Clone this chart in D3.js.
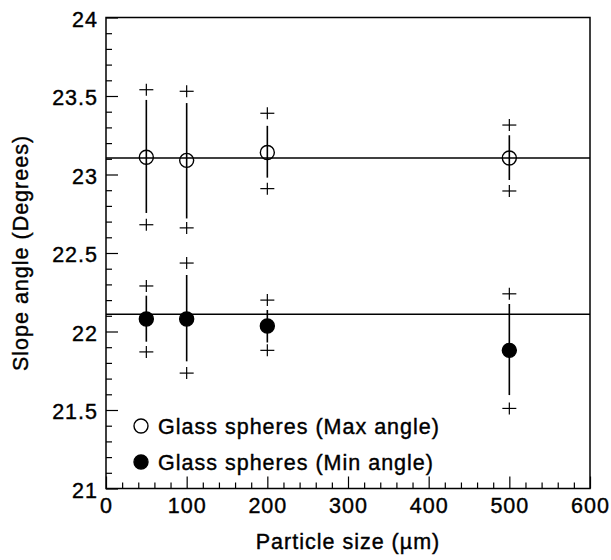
<!DOCTYPE html>
<html>
<head>
<meta charset="utf-8">
<script src="https://cdn.jsdelivr.net/npm/d3@7"></script>
<style>
  body { margin: 0; background: #fff; }
  svg text { font-family: "Liberation Sans", Arial, sans-serif; fill: #000;
             stroke: #000; stroke-width: 0.4; letter-spacing: 1px; }
</style>
</head>
<body>
<svg id="chart" width="611" height="560"></svg>
<script>
// particle sizes (µm)
const sizes = [50, 100, 200, 500];

// max angle series
const maxMean = [23.11, 23.09, 23.14, 23.105];
const maxBarLo = [22.755, 22.72, 22.98, 22.965];
const maxBarHi = [23.475, 23.455, 23.31, 23.25];
const maxMin = [22.68, 22.66, 22.91, 22.895];
const maxMax = [23.54, 23.53, 23.39, 23.315];
const maxFit = 23.105;

// min angle series
const minMean = [22.08, 22.08, 22.035, 21.88];
const minBarLo = [21.935, 21.81, 21.93, 21.595];
const minBarHi = [22.228, 22.36, 22.137, 22.175];
const minMin = [21.87, 21.735, 21.88, 21.51];
const minMax = [22.29, 22.436, 22.2, 22.24];
const minFit = 22.11;

const legendLabels = ["Glass spheres (Max angle)", "Glass spheres (Min angle)"];

const svg = d3.select("#chart");
const x = d3.scaleLinear().domain([0, 600]).range([106, 590]);
const y = d3.scaleLinear().domain([21, 24]).range([488.5, 17.5]);

// frame
svg.append("rect")
  .attr("x", x(0)).attr("y", y(24))
  .attr("width", x(600) - x(0)).attr("height", y(21) - y(24))
  .attr("fill", "none").attr("stroke", "#000").attr("stroke-width", 1.5);

// minor + major ticks (inward)
const xAxis = d3.axisTop(x).tickValues(d3.range(0, 601, 20)).tickFormat("")
  .tickSize(6).tickSizeOuter(0);
const gx = svg.append("g").attr("transform", `translate(0,${y(21)})`).call(xAxis);
gx.selectAll(".tick line").attr("y2", d => d % 100 === 0 ? -12 : -6).attr("stroke-width", 1.2);
gx.select(".domain").remove();

const yAxis = d3.axisRight(y).tickValues(d3.range(0, 31).map(i => 21 + i * 0.1)).tickFormat("")
  .tickSize(6).tickSizeOuter(0);
const gy = svg.append("g").attr("transform", `translate(${x(0)},0)`).call(yAxis);
gy.selectAll(".tick line").attr("x2", (d, i) => i % 5 === 0 ? 12 : 6).attr("stroke-width", 1.2);
gy.select(".domain").remove();

// tick labels
svg.append("g").selectAll("text").data(d3.range(0, 601, 100)).enter().append("text")
  .attr("x", d => x(d) + 0.5).attr("y", y(21) + 24)
  .attr("text-anchor", "middle").attr("font-size", 21.5)
  .text(d => d);

svg.append("g").selectAll("text").data([21, 21.5, 22, 22.5, 23, 23.5, 24]).enter().append("text")
  .attr("x", x(0) - 8).attr("y", d => y(d) + 9)
  .attr("text-anchor", "end").attr("font-size", 21.5)
  .text(d => d);

// axis titles
svg.append("text").attr("x", 348).attr("y", 549)
  .attr("text-anchor", "middle").attr("font-size", 21.5)
  .text("Particle size (µm)");
svg.append("text").attr("transform", "translate(28,253) rotate(-90)")
  .attr("text-anchor", "middle").attr("font-size", 21.5)
  .text("Slope angle (Degrees)");

// fit lines
[maxFit, minFit].forEach(v => {
  svg.append("line")
    .attr("x1", x(0)).attr("x2", x(600)).attr("y1", y(v)).attr("y2", y(v))
    .attr("stroke", "#000").attr("stroke-width", 1.5);
});

function drawSeries(mean, lo, hi, mn, mx, filled) {
  const g = svg.append("g");
  sizes.forEach((s, i) => {
    g.append("line")
      .attr("x1", x(s)).attr("x2", x(s)).attr("y1", y(lo[i])).attr("y2", y(hi[i]))
      .attr("stroke", "#000").attr("stroke-width", 1.6);
    [mn[i], mx[i]].forEach(v => {
      g.append("line").attr("x1", x(s) - 7).attr("x2", x(s) + 7).attr("y1", y(v)).attr("y2", y(v))
        .attr("stroke", "#000").attr("stroke-width", 1.2);
      g.append("line").attr("x1", x(s)).attr("x2", x(s)).attr("y1", y(v) - 6).attr("y2", y(v) + 6)
        .attr("stroke", "#000").attr("stroke-width", 1.2);
    });
    g.append("circle")
      .attr("cx", x(s)).attr("cy", y(mean[i])).attr("r", 7)
      .attr("fill", filled ? "#000" : "none")
      .attr("stroke", "#000").attr("stroke-width", 1.4);
  });
}
drawSeries(maxMean, maxBarLo, maxBarHi, maxMin, maxMax, false);
drawSeries(minMean, minBarLo, minBarHi, minMin, minMax, true);

// legend
const legend = svg.append("g");
legendLabels.forEach((lab, i) => {
  const cy = 426 + i * 36;
  legend.append("circle").attr("cx", 141).attr("cy", cy).attr("r", 7)
    .attr("fill", i === 0 ? "#fff" : "#000").attr("stroke", "#000").attr("stroke-width", 1.4);
  legend.append("text").attr("x", 158).attr("y", cy + 8).attr("font-size", 21.5).text(lab);
});
</script>
</body>
</html>
